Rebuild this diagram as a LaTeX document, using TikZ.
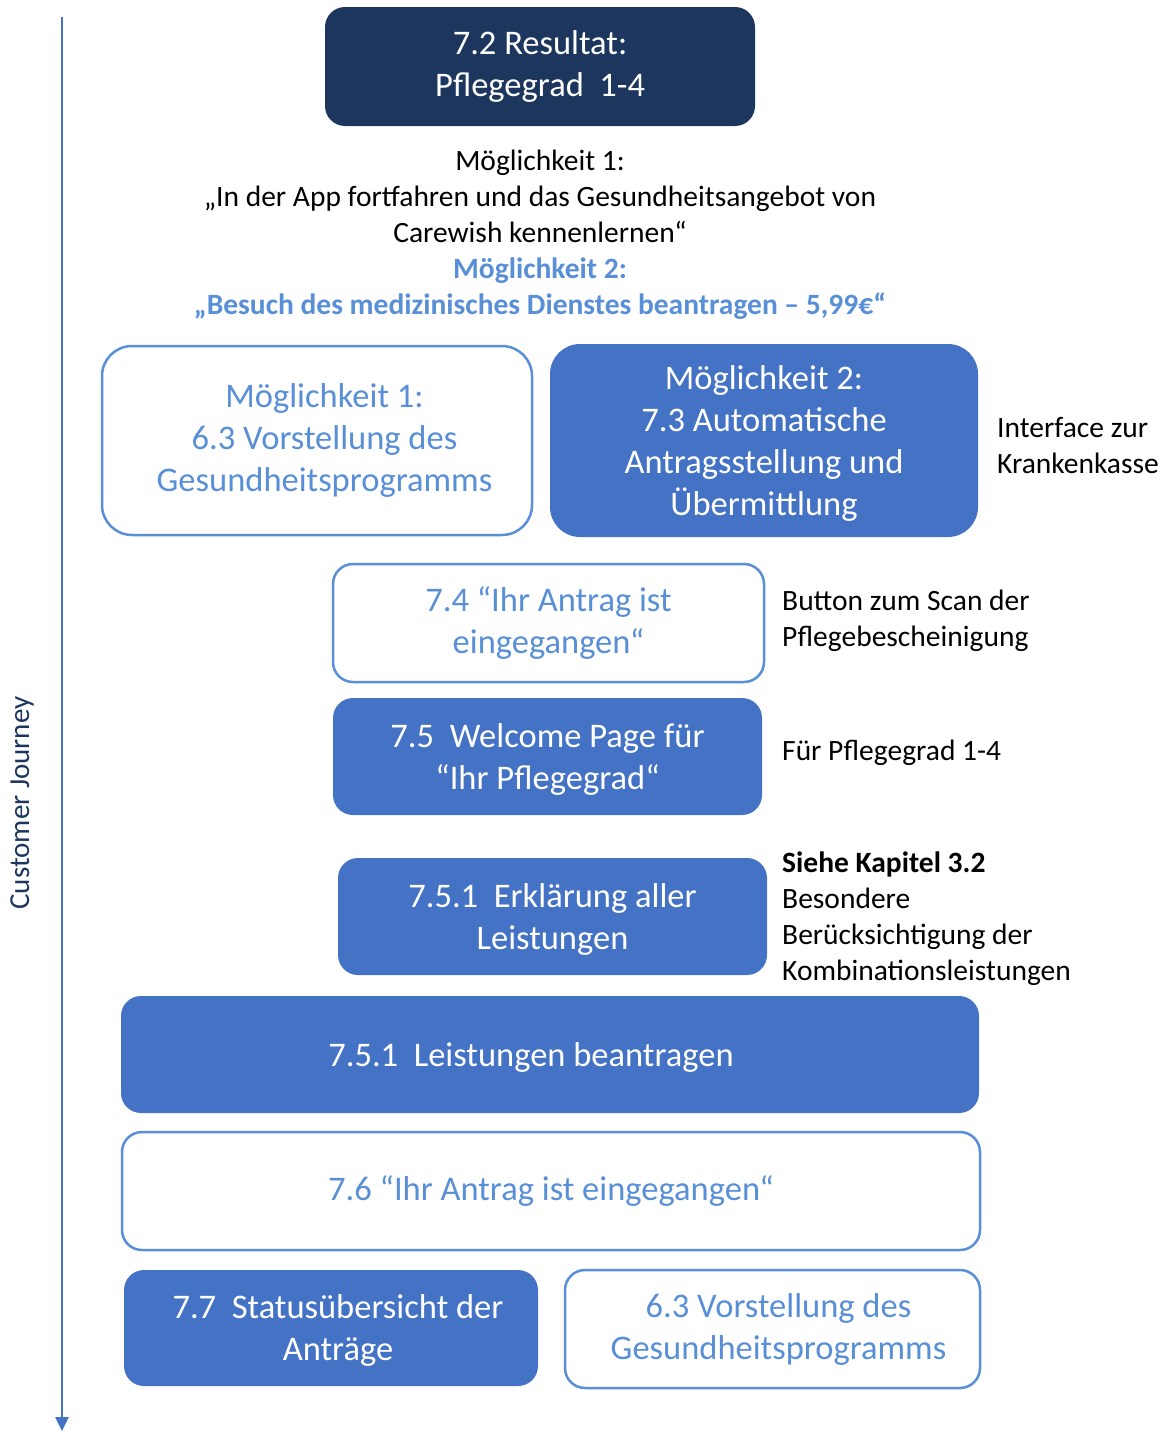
\documentclass[tikz,border=0pt]{standalone}
\usepackage{fontspec}
\setmainfont{Carlito}
\usepackage{tikz}
\usetikzlibrary{arrows.meta}

\definecolor{navy}{RGB}{29,54,94}
\definecolor{fillblue}{RGB}{68,114,196}
\definecolor{lightblue}{RGB}{88,143,214}

\tikzset{
    box/.style={rounded corners=20pt, align=center, inner sep=0pt,
        font=\fontsize{34.5}{42}\selectfont},
    dark/.style={box, fill=navy, text=white},
    full/.style={box, fill=fillblue, text=white, text depth=-2pt},
    hollow/.style={box, draw=lightblue, line width=2.5pt, fill=white, text=lightblue},
    note/.style={anchor=north west, align=left, inner sep=0pt,
        font=\fontsize{29.5}{36}\selectfont}
}

\begin{document}
\begin{tikzpicture}[x=1pt, y=-1pt]
    \useasboundingbox (0,0) rectangle (1165,1432);
    % Journey axis
        \coordinate (top) at (62,17);
        \coordinate (bottom) at (62,1431);
        \draw[fillblue, line width=2.5pt, -{Triangle[length=14pt, width=13pt]}] (top) -- (bottom);
        \node[rotate=90, font=\fontsize{29}{34}\selectfont, text=navy] (cj) at (22,803) {Customer Journey};
    % Boxes
        \node[dark, minimum width=430pt, minimum height=119pt] (res) at (540,66.5) {7.2 Resultat:\\Pflegegrad\ \ 1-4};
        \node[align=center, inner sep=0pt, font=\fontsize{29.5}{36}\selectfont] (opt) at (540,235)
            {Möglichkeit 1:\\„In der App fortfahren und das Gesundheitsangebot von\\Carewish kennenlernen“\\
            \textcolor{lightblue}{\textbf{Möglichkeit 2:}}\\\textcolor{lightblue}{\textbf{„Besuch des medizinisches Dienstes beantragen – 5,99€“}}};
        \node[hollow, rounded corners=30pt, minimum width=430pt, minimum height=189pt] (m1) at (317,440.5)
            {\hspace*{15pt}Möglichkeit 1:\\\hspace*{15pt}6.3 Vorstellung des\\\hspace*{15pt}Gesundheitsprogramms};
        \node[full, rounded corners=30pt, minimum width=428pt, minimum height=193pt] (m2) at (764,440.5)
            {Möglichkeit 2:\\7.3 Automatische\\Antragsstellung und\\Übermittlung};
        \node[hollow, minimum width=431pt, minimum height=118pt] (s74) at (548.5,623) {7.4 “Ihr Antrag ist\\eingegangen“};
        \node[full, minimum width=429pt, minimum height=117pt] (s75) at (547.5,756.5) {7.5\ \ Welcome Page für\\“Ihr Pflegegrad“};
        \node[full, minimum width=429pt, minimum height=117pt] (s751) at (552.5,916.5) {7.5.1\ \ Erklärung aller\\Leistungen};
        \node[full, minimum width=858pt, minimum height=117pt] (s751b) at (550,1054.5) {\hspace*{-38pt}7.5.1\ \ Leistungen beantragen};
        \node[hollow, minimum width=858pt, minimum height=118pt] (s76) at (551,1191) {7.6 “Ihr Antrag ist eingegangen“};
        \node[full, minimum width=414pt, minimum height=116pt] (s77) at (331,1328)
            {\hspace*{14pt}7.7\ \ Statusübersicht der\\\hspace*{14pt}Anträge};
        \node[hollow, minimum width=415pt, minimum height=118pt] (s63) at (772.5,1329)
            {\hspace*{12pt}6.3 Vorstellung des\\\hspace*{12pt}Gesundheitsprogramms};
    % Notes
        \node[note] (n1) at (997,417) {Interface zur\\Krankenkasse};
        \node[note] (n2) at (782,590) {Button zum Scan der\\Pflegebescheinigung};
        \node[note] (n3) at (782,740) {Für Pflegegrad 1-4};
        \node[note] (n4) at (782,852) {\textbf{Siehe Kapitel 3.2}\\Besondere\\Berücksichtigung der\\Kombinationsleistungen};
\end{tikzpicture}
\end{document}
